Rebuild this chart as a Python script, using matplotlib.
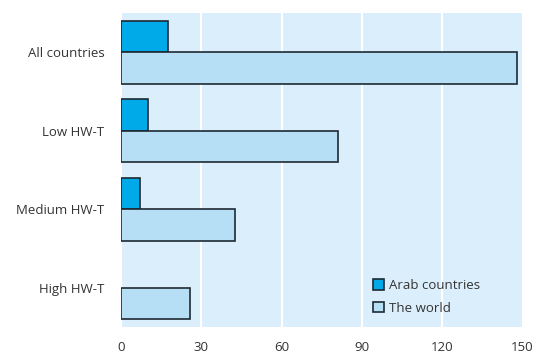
import numpy as np
import matplotlib
matplotlib.use("Agg")
import matplotlib.pyplot as plt
from matplotlib.patches import Patch

# ---------------------------------------------------------
# Data
# ---------------------------------------------------------
categories = ["All countries", "Low HW-T", "Medium HW-T", "High HW-T"]
arab_values = [17.4, 10.2, 7.0, 0.0]
world_values = [148.0, 81.1, 42.6, 25.6]
x_ticks = [0, 30, 60, 90, 120, 150]

arab_color = "#00a9e8"
world_color = "#b6def5"
bg_color = "#dbeefb"
edge_color = "#1e2a33"
text_color = "#333333"

plt.rcParams["font.family"] = ["Open Sans", "DejaVu Sans"]

# ---------------------------------------------------------
# Plot
# ---------------------------------------------------------
fig = plt.figure(figsize=(5.34, 3.53), dpi=100)
ax = fig.add_axes([0.2266, 0.074, 0.752, 0.889])
ax.set_facecolor(bg_color)

y = np.arange(len(categories))
h = 0.4

# skip empty arab bars (no outline drawn in the original)
arab_y = [yy for yy, v in zip(y, arab_values) if v > 0]
arab_v = [v for v in arab_values if v > 0]

ax.barh(arab_y, arab_v, height=-h, align="edge", color=arab_color,
        edgecolor=edge_color, linewidth=1.2, zorder=3)
ax.barh(y, world_values, height=h, align="edge", color=world_color,
        edgecolor=edge_color, linewidth=1.2, zorder=3)

ax.set_xlim(0, 150)
ax.set_ylim(3.5, -0.5)
ax.set_xticks(x_ticks)
ax.set_yticks(y)
ax.set_yticklabels(categories)

ax.grid(axis="x", color="white", linewidth=1.6, zorder=1)
ax.set_axisbelow(True)
for s in ax.spines.values():
    s.set_visible(False)
ax.tick_params(axis="both", length=0, labelsize=9.5, labelcolor=text_color)
ax.tick_params(axis="y", pad=12)
ax.tick_params(axis="x", pad=10)

handles = [
    Patch(facecolor=arab_color, edgecolor=edge_color, linewidth=1.2, label="Arab countries"),
    Patch(facecolor=world_color, edgecolor=edge_color, linewidth=1.2, label="The world"),
]
leg = ax.legend(handles=handles, loc="lower left", bbox_to_anchor=(0.598, 0.0),
                frameon=False, fontsize=9.5, handlelength=0.8, handleheight=0.8,
                handletextpad=0.4, labelspacing=0.75)
for t in leg.get_texts():
    t.set_color(text_color)

fig.savefig("out.png", dpi=100)
